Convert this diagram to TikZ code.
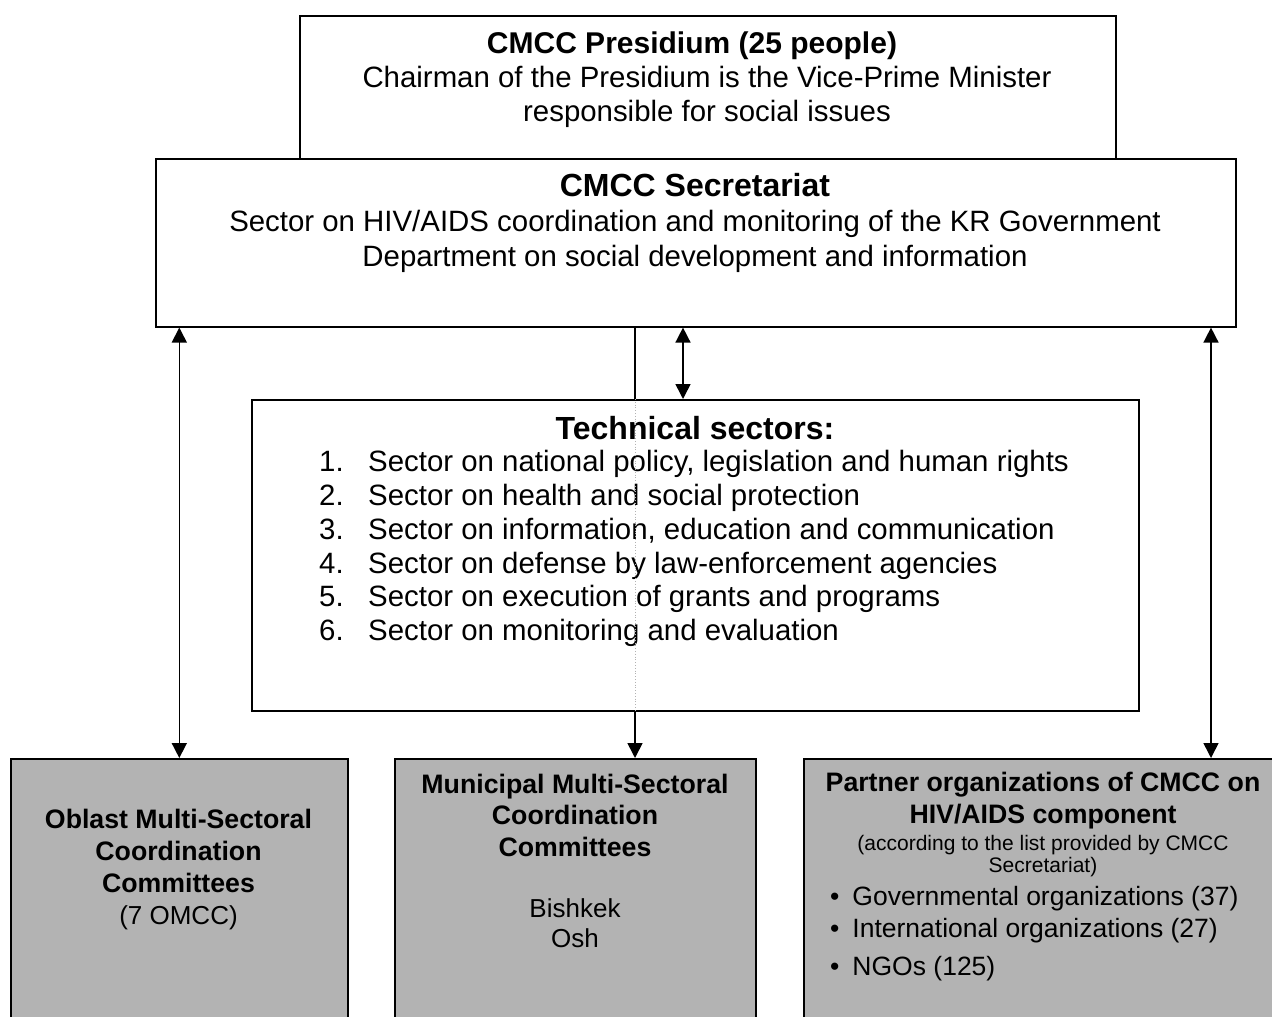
\documentclass[tikz,border=0pt]{standalone}
\usepackage{fontspec}
\setmainfont{Liberation Sans}
\usetikzlibrary{arrows.meta}
\definecolor{boxgray}{RGB}{179,179,179}
\tikzset{
  box/.style={draw=black, line width=1.6pt, inner sep=0pt, anchor=north west},
  graybox/.style={box, fill=boxgray},
  txt/.style={inner sep=0pt, align=center},
  conn/.style={line width=1.6pt},
  arr/.style={conn, -{Triangle[width=15pt,length=15pt]}},
  darr/.style={conn, {Triangle[width=15pt,length=15pt]}-{Triangle[width=15pt,length=15pt]}},
  big/.style={font=\fontsize{29.4}{34}\selectfont},
  mid/.style={font=\fontsize{26.7}{31.5}\selectfont},
}
\newcommand{\ttl}[1]{{\fontsize{32}{34}\selectfont\textbf{#1}}}
\begin{document}
\begin{tikzpicture}[x=1pt,y=-1pt]
\useasboundingbox (0,0) rectangle (1272,1017);
\clip (0,0) rectangle (1272,1017);
\fill[white] (0,0) rectangle (1272,1017);
% boxes
\node[box, minimum width=816pt, minimum height=143pt] (pres) at (299,15) {};
\node[box, fill=white, minimum width=1080pt, minimum height=168pt] (sec) at (155,158) {};
\node[box, minimum width=887pt, minimum height=311pt] (tech) at (251,399) {};
\node[graybox, minimum width=337pt, minimum height=300pt] (oblast) at (10,758) {};
\node[graybox, minimum width=361pt, minimum height=300pt] (muni) at (394,758) {};
\node[graybox, minimum width=500pt, minimum height=300pt] (partner) at (803,758) {};
% texts
\node[txt, big] (prest) at (707,80) {{\fontsize{30}{34}\selectfont\textbf{CMCC Presidium (25 people)}\kern30pt}\\Chairman of the Presidium is the Vice-Prime Minister\\responsible for social issues};
\node[txt, font=\fontsize{29.4}{35}\selectfont] (sect) at (695,223) {\ttl{CMCC Secretariat}\\Sector on HIV/AIDS coordination and monitoring of the KR Government\\Department on social development and information};
\node[txt] (techt) at (695,428) {\ttl{Technical sectors:}};
\node[txt, font=\fontsize{29.4}{33.8}\selectfont, align=left, anchor=west] (techl) at (319,548.5) {%
\makebox[49pt][l]{1.}Sector on national policy, legislation and human rights\\
\makebox[49pt][l]{2.}Sector on health and social protection\\
\makebox[49pt][l]{3.}Sector on information, education and communication\\
\makebox[49pt][l]{4.}Sector on defense by law-enforcement agencies\\
\makebox[49pt][l]{5.}Sector on execution of grants and programs\\
\makebox[49pt][l]{6.}Sector on monitoring and evaluation};
\node[txt, mid, font=\fontsize{26.7}{32}\selectfont] (oblastt) at (178.5,870) {\textbf{Oblast Multi-Sectoral}\\\textbf{Coordination}\\\textbf{Committees}\\{\fontsize{26}{32}\selectfont(7 OMCC)}};
\node[txt, mid] (munit) at (575,815) {\textbf{Municipal Multi-Sectoral}\\\textbf{Coordination}\\\textbf{Committees}};
\node[txt, font=\fontsize{26}{30}\selectfont] (munic) at (575,923) {Bishkek\\Osh};
\node[txt, mid] (partt) at (1043,800.5) {\textbf{Partner organizations of CMCC on}\\\textbf{HIV/AIDS component}};
\node[txt, font=\fontsize{21}{22.5}\selectfont] (partn) at (1043,856) {(according to the list provided by CMCC\\Secretariat)};
\node[txt, font=\fontsize{26.5}{32}\selectfont, align=left, anchor=north west] (partl) at (830,886) {%
\textbullet\hspace{13pt}Governmental organizations (37)\\[0pt]
\textbullet\hspace{13pt}International organizations (27)\\[6pt]
\textbullet\hspace{13pt}NGOs (125)};
% connectors
\coordinate (cl) at (635,0);
\coordinate (cr) at (683,0);
\coordinate (ra) at (1211,0);
\draw[darr] (oblast.north |- sec.south) -- (oblast.north);
\draw[darr] (sec.south -| ra) -- (partner.north -| ra);
\draw[darr] (sec.south -| cr) -- (tech.north -| cr);
\draw[conn] (sec.south -| cl) -- (tech.north -| cl);
\draw[gray!60, dotted, line width=0.8pt] (tech.north -| cl) -- (tech.south -| cl);
\draw[arr] (tech.south -| cl) -- (muni.north -| cl);
\end{tikzpicture}
\end{document}
